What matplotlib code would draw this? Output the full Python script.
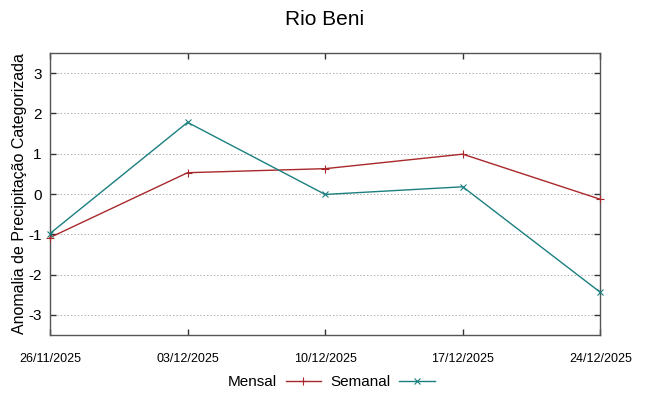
import matplotlib
matplotlib.use('Agg')
import matplotlib.pyplot as plt

plt.rcParams['font.family'] = ['Liberation Sans', 'DejaVu Sans']

# --- Data ---
dates = ['26/11/2025', '03/12/2025', '10/12/2025', '17/12/2025', '24/12/2025']
mensal = [-1.08, 0.53, 0.63, 0.99, -0.13]
semanal = [-0.98, 1.78, -0.01, 0.18, -2.44]
yticks = [-3, -2, -1, 0, 1, 2, 3]

red = '#a8282b'
teal = '#1b7f7f'

fig = plt.figure(figsize=(6.49, 3.96), dpi=100)
ax = fig.add_axes([0.077, 0.154, 0.848, 0.712])

x = list(range(len(dates)))
ax.plot(x, mensal, '-', color=red, lw=1.0, marker='+', ms=6, mew=0.8,
        label='Mensal', clip_on=False, zorder=3)
ax.plot(x, semanal, '-', color=teal, lw=1.0, marker='x', ms=5, mew=0.8,
        label='Semanal', clip_on=False, zorder=3)

ax.set_xlim(0, len(dates) - 1)
ax.set_ylim(-3.5, 3.5)
ax.set_xticks(x)
ax.set_xticklabels(dates, fontsize=9)
ax.set_yticks(yticks)
ax.set_yticklabels([str(v) for v in yticks], fontsize=11)

for v in yticks:
    ax.axhline(v, color='#b0b0b0', lw=0.7, ls=(0, (1.5, 2)), zorder=1)

ax.tick_params(direction='in', length=4, width=1.0, color='#333333',
               top=True, right=True)
ax.tick_params(axis='x', pad=13)
ax.tick_params(axis='y', pad=6)
for s in ax.spines.values():
    s.set_color('#555555')
    s.set_linewidth(1.0)

ax.set_ylabel('Anomalia de Precipitação Categorizada', fontsize=11.5, labelpad=1)
fig.suptitle('Rio Beni', fontsize=15, y=0.975)

fig.legend(loc='center', bbox_to_anchor=(0.51, 0.035), ncol=2, frameon=False,
           markerfirst=False, fontsize=11, handlelength=2.3, columnspacing=0.6,
           handletextpad=0.6)

fig.savefig('out.png', dpi=100)
